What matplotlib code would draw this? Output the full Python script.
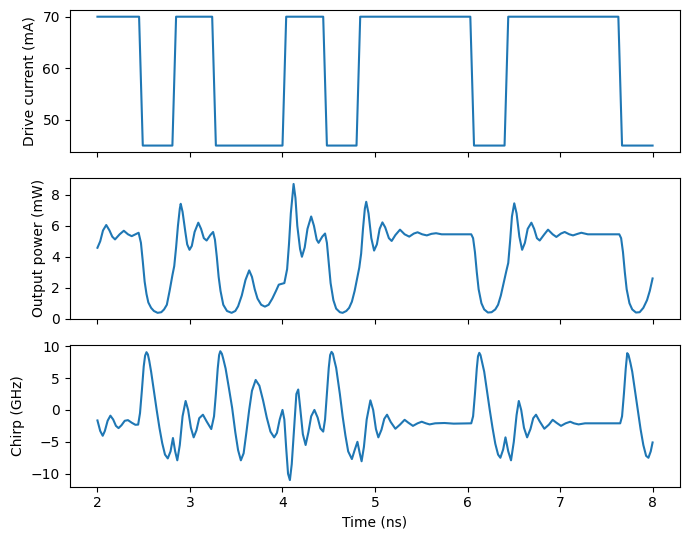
import matplotlib
matplotlib.use("Agg")
import matplotlib.pyplot as plt

# drive current (mA) - square pulse pattern
t_drive = [2.00, 2.45, 2.49, 2.81, 2.85, 3.24, 3.28, 4.00, 4.04, 4.44,
           4.48, 4.80, 4.84, 6.03, 6.07, 6.40, 6.44, 7.63, 7.67, 8.00]
drive_ma = [70, 70, 45, 45, 70, 70, 45, 45, 70, 70,
            45, 45, 70, 70, 45, 45, 70, 70, 45, 45]

# output power (mW)
t_power = [2.00, 2.03, 2.06, 2.095, 2.13, 2.16, 2.19, 2.24, 2.285, 2.33,
           2.37, 2.41, 2.445, 2.47, 2.49, 2.51, 2.53, 2.55, 2.58, 2.61,
           2.65, 2.69, 2.72, 2.75, 2.78, 2.81, 2.83, 2.85, 2.87, 2.89,
           2.90, 2.92, 2.95, 2.97, 2.995, 3.02, 3.05, 3.09, 3.12, 3.15,
           3.18, 3.22, 3.25, 3.27, 3.29, 3.31, 3.33, 3.36, 3.40, 3.45,
           3.49, 3.52, 3.56, 3.60, 3.64, 3.67, 3.70, 3.73, 3.77, 3.81,
           3.85, 3.89, 3.93, 3.96, 3.99, 4.02, 4.05, 4.07, 4.09, 4.12,
           4.14, 4.16, 4.19, 4.21, 4.24, 4.27, 4.31, 4.34, 4.37, 4.39,
           4.43, 4.46, 4.48, 4.50, 4.52, 4.55, 4.58, 4.62, 4.65, 4.69,
           4.72, 4.75, 4.78, 4.81, 4.83, 4.85, 4.87, 4.89, 4.905, 4.93,
           4.96, 4.99, 5.02, 5.05, 5.08, 5.11, 5.15, 5.18, 5.22, 5.27,
           5.32, 5.37, 5.42, 5.46, 5.51, 5.56, 5.61, 5.66, 5.72, 5.80,
           6.04, 6.06, 6.08, 6.10, 6.12, 6.15, 6.18, 6.22, 6.26, 6.30,
           6.33, 6.36, 6.39, 6.42, 6.44, 6.46, 6.48, 6.505, 6.53, 6.56,
           6.59, 6.62, 6.65, 6.69, 6.72, 6.75, 6.78, 6.83, 6.87, 6.92,
           6.96, 7.01, 7.05, 7.10, 7.14, 7.19, 7.23, 7.30, 7.64, 7.66,
           7.68, 7.70, 7.72, 7.75, 7.78, 7.82, 7.86, 7.90, 7.94, 7.97,
           8.00]
power_mw = [4.58, 5.0, 5.7, 6.05, 5.7, 5.3, 5.12, 5.45, 5.68, 5.45,
            5.33, 5.45, 5.55, 4.9, 3.7, 2.4, 1.6, 1.05, 0.7, 0.5,
            0.38, 0.42, 0.6, 0.9, 1.8, 2.8, 3.4, 4.6, 6.0, 7.1,
            7.42, 6.9, 5.6, 4.8, 4.45, 4.7, 5.6, 6.2, 5.8, 5.2,
            5.05, 5.4, 5.6, 5.1, 4.0, 2.7, 1.8, 0.9, 0.5, 0.38,
            0.5, 0.8, 1.5, 2.5, 3.12, 2.7, 1.9, 1.3, 0.9, 0.78,
            0.9, 1.3, 1.8, 2.2, 2.25, 2.3, 3.2, 4.8, 6.8, 8.7,
            7.8, 6.0, 4.5, 4.0, 4.6, 5.8, 6.6, 6.0, 5.1, 4.9,
            5.3, 5.5, 4.9, 3.6, 2.3, 1.2, 0.65, 0.42, 0.38, 0.5,
            0.7, 1.1, 1.8, 2.7, 3.3, 4.2, 5.8, 7.1, 7.55, 6.8,
            5.2, 4.4, 4.8, 5.8, 6.22, 5.9, 5.2, 5.02, 5.4, 5.75,
            5.45, 5.3, 5.5, 5.58, 5.45, 5.38, 5.48, 5.52, 5.45, 5.45,
            5.45, 5.2, 4.3, 3.0, 1.9, 1.0, 0.6, 0.4, 0.42, 0.6,
            0.9, 1.5, 2.3, 3.1, 3.6, 5.0, 6.6, 7.45, 6.8, 5.3,
            4.45, 4.9, 5.8, 6.2, 5.8, 5.2, 5.05, 5.45, 5.75, 5.45,
            5.28, 5.5, 5.6, 5.45, 5.38, 5.48, 5.55, 5.45, 5.45, 5.2,
            4.3, 3.0, 1.9, 1.0, 0.6, 0.4, 0.42, 0.7, 1.2, 1.8,
            2.6]

# chirp (GHz)
t_chirp = [2.00, 2.03, 2.057, 2.08, 2.11, 2.14, 2.17, 2.20, 2.228, 2.26,
           2.295, 2.33, 2.37, 2.41, 2.44, 2.46, 2.48, 2.50, 2.515, 2.53,
           2.545, 2.56, 2.58, 2.61, 2.64, 2.67, 2.70, 2.73, 2.76, 2.79,
           2.816, 2.84, 2.863, 2.89, 2.92, 2.953, 2.98, 3.01, 3.04, 3.07,
           3.10, 3.14, 3.18, 3.23, 3.26, 3.28, 3.30, 3.315, 3.328, 3.345,
           3.36, 3.385, 3.42, 3.456, 3.49, 3.52, 3.55, 3.58, 3.61, 3.64,
           3.67, 3.71, 3.75, 3.79, 3.83, 3.87, 3.91, 3.94, 3.97, 4.00,
           4.02, 4.04, 4.06, 4.08, 4.10, 4.13, 4.15, 4.17, 4.19, 4.22,
           4.25, 4.28, 4.31, 4.345, 4.38, 4.41, 4.44, 4.46, 4.48, 4.50,
           4.515, 4.53, 4.545, 4.56, 4.58, 4.62, 4.65, 4.68, 4.71, 4.75,
           4.78, 4.81, 4.835, 4.855, 4.88, 4.91, 4.95, 4.98, 5.01, 5.036,
           5.07, 5.10, 5.13, 5.17, 5.22, 5.27, 5.32, 5.36, 5.41, 5.46,
           5.505, 5.55, 5.59, 5.65, 5.75, 5.85, 6.04, 6.06, 6.08, 6.10,
           6.113, 6.127, 6.14, 6.16, 6.18, 6.21, 6.24, 6.27, 6.30, 6.33,
           6.355, 6.385, 6.41, 6.44, 6.47, 6.50, 6.53, 6.554, 6.58, 6.61,
           6.644, 6.68, 6.71, 6.74, 6.78, 6.83, 6.88, 6.92, 6.96, 7.01,
           7.06, 7.11, 7.15, 7.20, 7.27, 7.40, 7.65, 7.67, 7.69, 7.71,
           7.726, 7.74, 7.76, 7.78, 7.81, 7.84, 7.87, 7.90, 7.93, 7.955,
           7.98, 8.00]
chirp_ghz = [-1.65, -3.3, -4.05, -3.3, -1.7, -0.9, -1.5, -2.5, -2.85, -2.4,
             -1.7, -1.6, -2.0, -2.33, -2.3, -0.5, 3.0, 6.8, 8.5, 9.05,
             8.7, 7.7, 6.0, 3.0, 0.0, -2.8, -5.2, -7.0, -7.6, -6.5,
             -4.4, -6.5, -7.9, -5.5, -1.0, 1.4, 0.0, -2.8, -4.3, -3.2,
             -1.3, -0.75, -1.8, -3.0, -1.0, 2.5, 6.5, 8.6, 9.2, 8.8,
             8.0, 6.5, 3.5, 0.3, -3.5, -6.3, -7.9, -6.8, -3.5, 0.0,
             3.0, 4.7, 3.8, 1.5, -1.2, -3.4, -4.3, -3.6, -1.5, 0.0,
             -1.5, -6.0, -10.0, -11.0, -8.5, -2.0, 2.5, 3.2, 0.5, -3.8,
             -5.5, -3.5, -1.0, 0.0, -1.2, -2.9, -3.4, -1.5, 2.5, 6.6,
             8.6, 9.1, 8.8, 7.8, 6.6, 2.5, -1.0, -4.0, -6.5, -7.7,
             -6.3, -5.0, -6.8, -8.05, -5.8, -1.5, 1.5, 0.0, -3.0, -4.3,
             -3.1, -1.4, -0.75, -1.9, -2.95, -2.3, -1.55, -2.0, -2.5, -2.1,
             -1.85, -2.1, -2.27, -2.1, -2.05, -2.15, -2.1, -1.0, 2.5, 6.5,
             8.4, 8.95, 8.6, 7.3, 6.0, 3.0, 0.0, -2.8, -5.3, -7.0,
             -7.5, -6.2, -4.3, -6.5, -7.9, -5.0, -0.8, 1.4, 0.0, -2.8,
             -4.3, -3.0, -1.3, -0.75, -1.8, -2.95, -2.3, -1.55, -2.0, -2.5,
             -2.1, -1.85, -2.1, -2.27, -2.1, -2.1, -2.1, -1.0, 2.5, 6.5,
             8.9, 8.6, 7.4, 6.0, 3.0, 0.0, -3.0, -5.5, -7.2, -7.5,
             -6.5, -5.1]

fig, axes = plt.subplots(3, 1, sharex=True, figsize=(6.9, 5.4), dpi=100)
fig.subplots_adjust(left=0.101, right=0.986, top=0.981, bottom=0.099, hspace=0.18)

axes[0].plot(t_drive, drive_ma)
axes[0].set_ylabel("Drive current (mA)")

axes[1].plot(t_power, power_mw)
axes[1].set_ylabel("Output power (mW)")

axes[2].plot(t_chirp, chirp_ghz)
axes[2].set_ylabel("Chirp (GHz)")
axes[2].set_xlabel("Time (ns)")

fig.savefig("out.png", dpi=100)
